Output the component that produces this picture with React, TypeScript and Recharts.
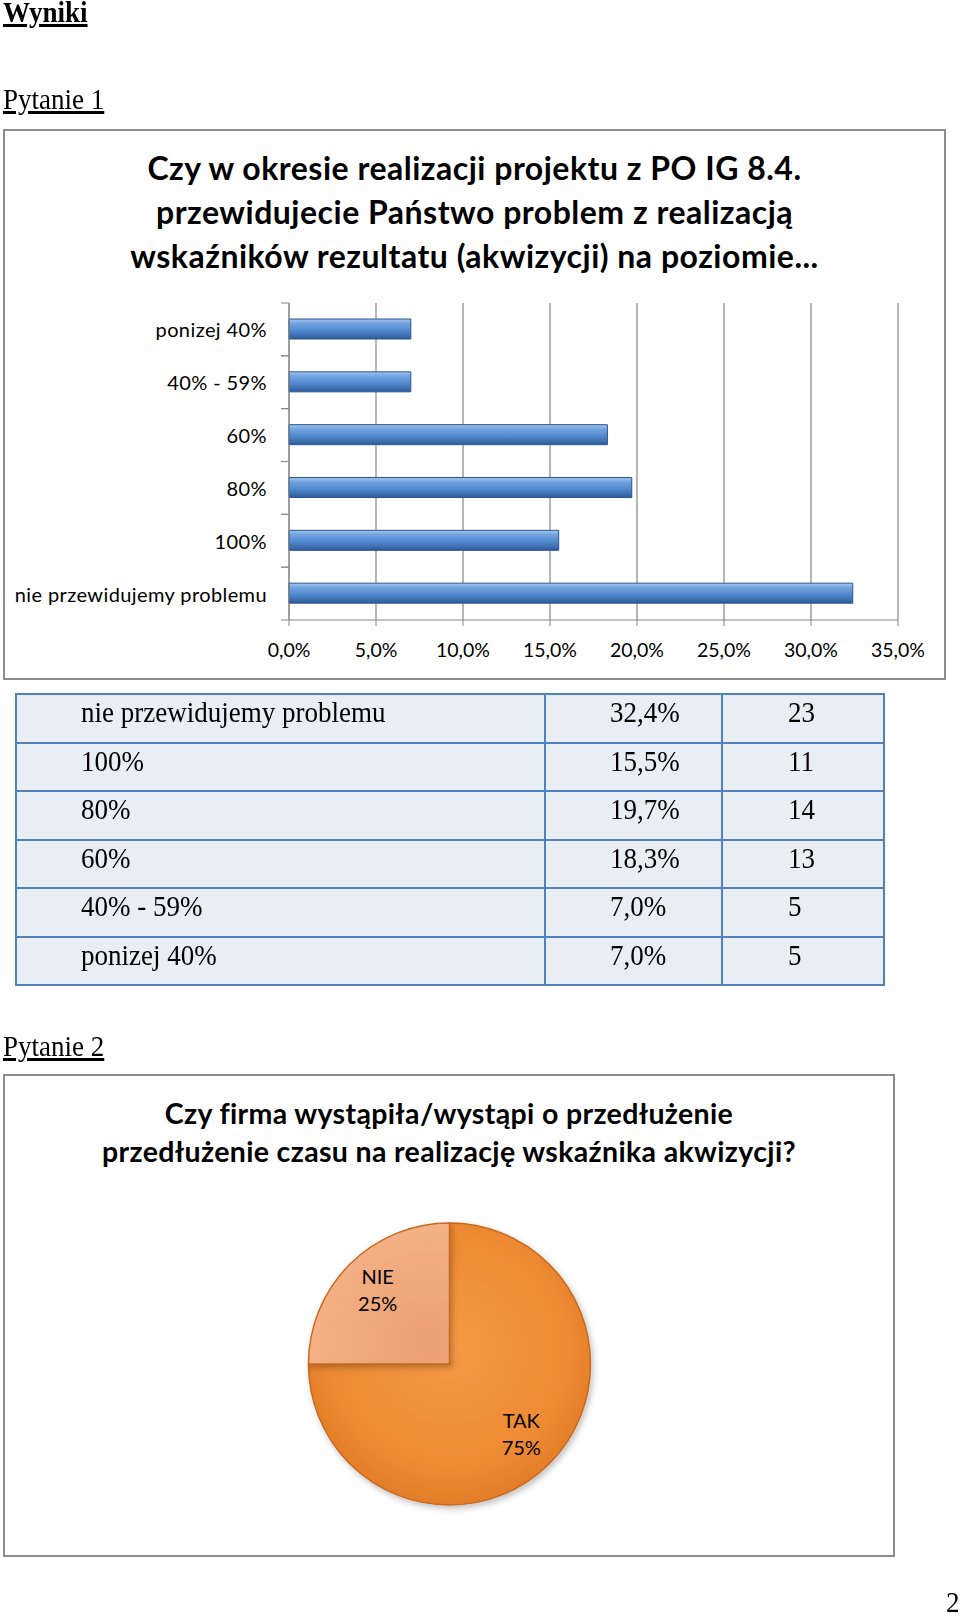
import React from 'react';
import {
  BarChart, Bar, XAxis, YAxis, CartesianGrid,
  PieChart, Pie, Cell,
} from 'recharts';

// Pytanie 1 - kategorie od gory wykresu
const categories = ['ponizej 40%', '40% - 59%', '60%', '80%', '100%', 'nie przewidujemy problemu'];
const shares = [0.07, 0.07, 0.183, 0.197, 0.155, 0.324];
const counts = [5, 5, 13, 14, 11, 23];
const xTicks = [0, 0.05, 0.1, 0.15, 0.2, 0.25, 0.3, 0.35];

// Pytanie 2
const answers = ['TAK', 'NIE'];
const answerShares = [75, 25];

const barData = categories.map((name, i) => ({ name, value: shares[i] }));
// tabela idzie w odwrotnej kolejnosci
const tableRows = categories.map((name, i) => ({ name, share: shares[i], count: counts[i] })).reverse();
const pieData = answers.map((name, i) => ({ name, value: answerShares[i] }));

const CHART_FONT = 'Lato, "Open Sans", sans-serif';
const SERIF = '"Liberation Serif", "Times New Roman", serif';
const BAND = 317 / 6;

const pct = (v: number) => (v * 100).toFixed(1).replace('.', ',') + '%';

const CategoryTick = (props: any) => {
  const { x, y, payload } = props;
  return (
    <g>
      <text x={x - 22} y={y} textAnchor="end" dominantBaseline="central" fontSize={20} letterSpacing={0.4} fill="#000" fontFamily={CHART_FONT}>
        {payload.value}
      </text>
      <line x1={x - 8} x2={x} y1={y - BAND / 2} y2={y - BAND / 2} stroke="#868686" />
      <line x1={x - 8} x2={x} y1={y + BAND / 2} y2={y + BAND / 2} stroke="#868686" />
    </g>
  );
};

const RADIAN = Math.PI / 180;
const PieLabel = (props: any) => {
  const { cx, cy, midAngle, outerRadius, name, value } = props;
  const r = outerRadius * 0.72;
  const x = cx + r * Math.cos(-midAngle * RADIAN);
  const y = cy + r * Math.sin(-midAngle * RADIAN);
  return (
    <text x={x} y={y} textAnchor="middle" fontSize={20} fill="#000" fontFamily={CHART_FONT}>
      <tspan x={x} dy={-8}>{name}</tspan>
      <tspan x={x} dy={27}>{value}%</tspan>
    </text>
  );
};

// tekst szeryfowy, troche sciesniony jak w oryginale
const Serif = ({ children, underline = false }: { children: React.ReactNode; underline?: boolean }) => (
  <span style={{
    display: 'inline-block', transform: 'scaleX(0.9)', transformOrigin: 'left center', whiteSpace: 'nowrap',
    textDecoration: underline ? 'underline' : 'none',
  }}>
    {children}
  </span>
);

const heading = (text: string, baseline: number, bold = false): React.ReactNode => (
  <div style={{
    position: 'absolute', left: 3, top: baseline - 21, fontFamily: SERIF, fontSize: 30, lineHeight: '22px',
    fontWeight: bold ? 700 : 400, whiteSpace: 'nowrap',
  }}><Serif underline>{text}</Serif></div>
);

const cell = (pad: number): React.CSSProperties => ({
  border: '2px solid #4f81bd', background: '#e9edf4', paddingLeft: pad, paddingTop: 2, paddingBottom: 0,
  verticalAlign: 'top', lineHeight: '30px',
});

export default function App() {
  return (
    <div style={{ position: 'relative', width: 960, height: 1617, background: '#fff', overflow: 'hidden' }}>
      <style>{'body{margin:0}'}</style>
      {heading('Wyniki', 21.5, true)}
      {heading('Pytanie 1', 108.5)}

      {/* wykres 1 */}
      <div style={{ position: 'absolute', left: 3, top: 129, width: 939, height: 547, border: '2px solid #8c8c8c' }}>
        <div style={{
          position: 'absolute', left: 0, top: 15, width: 939, textAlign: 'center',
          fontFamily: CHART_FONT, fontWeight: 700, fontSize: 32, letterSpacing: 0.5, lineHeight: '44px', color: '#000',
        }}>
          Czy w okresie realizacji projektu z PO IG 8.4.<br />
          przewidujecie Państwo problem z realizacją<br />
          wskaźników rezultatu (akwizycji) na poziomie...
        </div>
        <div style={{ position: 'absolute', left: -2, top: -1 }}>
          <BarChart
            width={941}
            height={548}
            data={barData}
            layout="vertical"
            margin={{ top: 173, right: 46, bottom: 28, left: 0 }}
            barSize={20}
          >
            <defs>
              <linearGradient id="barGrad" x1="0" y1="0" x2="0" y2="1">
                <stop offset="0%" stopColor="#a3c5ef" />
                <stop offset="22%" stopColor="#72a3e0" />
                <stop offset="60%" stopColor="#4f86cc" />
                <stop offset="100%" stopColor="#2f5c98" />
              </linearGradient>
            </defs>
            <CartesianGrid horizontal={false} stroke="#868686" strokeWidth={1.2} />
            <XAxis
              type="number"
              domain={[0, 0.35]}
              ticks={xTicks}
              tickFormatter={pct}
              axisLine={{ stroke: '#868686' }}
              tickLine={{ stroke: '#868686' }}
              tickSize={6}
              tickMargin={17}
              height={30}
              tick={{ fontSize: 19.5, fill: '#000', fontFamily: CHART_FONT }}
            />
            <YAxis
              type="category"
              dataKey="name"
              width={286}
              axisLine={{ stroke: '#868686' }}
              tickLine={false}
              tickSize={0}
              tickMargin={0}
              tick={<CategoryTick />}
              interval={0}
            />
            <Bar dataKey="value" fill="url(#barGrad)" stroke="#2a568c" strokeWidth={1} isAnimationActive={false} />
          </BarChart>
        </div>
      </div>

      {/* tabela */}
      <table style={{
        position: 'absolute', left: 15, top: 693, width: 870, borderCollapse: 'collapse',
        fontFamily: SERIF, fontSize: 30, color: '#000',
      }}>
        <tbody>
          {tableRows.map((row) => (
            <tr key={row.name} style={{ height: 48.5 }}>
              <td style={{ ...cell(64), width: 463 }}><Serif>{row.name}</Serif></td>
              <td style={{ ...cell(64), width: 110 }}><Serif>{pct(row.share)}</Serif></td>
              <td style={{ ...cell(65), width: 95 }}><Serif>{row.count}</Serif></td>
            </tr>
          ))}
        </tbody>
      </table>

      {heading('Pytanie 2', 1056)}

      {/* wykres 2 */}
      <div style={{ position: 'absolute', left: 3, top: 1074, width: 888, height: 479, border: '2px solid #8c8c8c' }}>
        <div style={{
          position: 'absolute', left: 0, top: 18, width: 888, textAlign: 'center',
          fontFamily: CHART_FONT, fontWeight: 700, fontSize: 28.5, letterSpacing: 0.35, lineHeight: '38px', color: '#000',
        }}>
          Czy firma wystąpiła/wystąpi o przedłużenie<br />
          przedłużenie czasu na realizację wskaźnika akwizycji?
        </div>
        <div style={{ position: 'absolute', left: -2, top: -2 }}>
          <PieChart width={892} height={483}>
            <defs>
              <radialGradient id="takGrad" cx="50%" cy="45%" r="60%">
                <stop offset="0%" stopColor="#f59a45" />
                <stop offset="70%" stopColor="#ee8a32" />
                <stop offset="100%" stopColor="#dd7725" />
              </radialGradient>
              <radialGradient id="nieGrad" cx="85%" cy="85%" r="110%">
                <stop offset="0%" stopColor="#eba074" />
                <stop offset="55%" stopColor="#f1ab7f" />
                <stop offset="100%" stopColor="#f5b98e" />
              </radialGradient>
              <filter id="pieShadow" x="-20%" y="-20%" width="140%" height="140%">
                <feDropShadow dx="2" dy="3" stdDeviation="3" floodColor="#000" floodOpacity="0.25" />
              </filter>
            </defs>
            <Pie
              data={pieData}
              dataKey="value"
              nameKey="name"
              cx={441.5}
              cy={285}
              outerRadius={141}
              startAngle={90}
              endAngle={-270}
              stroke="#c8691e"
              strokeWidth={1.5}
              labelLine={false}
              label={<PieLabel />}
              style={{ filter: 'url(#pieShadow)' }}
              isAnimationActive={false}
            >
              <Cell fill="url(#takGrad)" />
              <Cell fill="url(#nieGrad)" />
            </Pie>
          </PieChart>
        </div>
      </div>

      <div style={{ position: 'absolute', left: 946, top: 1612 - 21, fontFamily: SERIF, fontSize: 30, lineHeight: '22px' }}>
        <Serif>2</Serif>
      </div>
    </div>
  );
}
